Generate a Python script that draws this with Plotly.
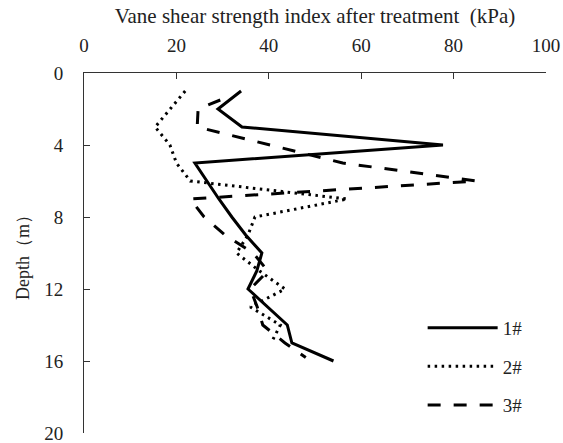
import plotly.graph_objects as go

# Depth (m) and vane shear strength (kPa) for each borehole
depth_1 = [1, 2, 3, 4, 5, 6, 7, 8, 9, 10, 11, 12, 13, 14, 15, 16]
vane_1 = [34, 29, 34.2, 77.7, 24, 26.6, 29.2, 32, 35, 38.5, 37.4, 35.5, 39.8, 44, 45, 54]

depth_2 = [1, 2, 3, 4, 5, 6, 7, 8, 9, 10, 11, 12, 13, 14, 15]
vane_2 = [21.9, 18.6, 15.4, 18.6, 20, 23, 57, 37, 35.5, 33, 38, 43.5, 36, 42.5, 40.5]

depth_3 = [1.5, 2, 3, 4, 5, 6, 7, 8, 9, 10, 11, 12, 13, 14, 15, 15.8]
vane_3 = [29.5, 24.7, 24.5, 40, 56, 85, 23, 26, 30.5, 36.6, 39.8, 36, 37.5, 38.7, 43.5, 48]

series_names = ["1#", "2#", "3#"]
x_ticks = [0, 20, 40, 60, 80, 100]
y_ticks = [0, 4, 8, 12, 16, 20]

FONT = "Liberation Serif, Times New Roman, serif"

fig = go.Figure()
styles = [dict(dash="solid"), dict(dash="2.5px,4.5px"), dict(dash="13px,13px")]
for i, (d, v) in enumerate([(depth_1, vane_1), (depth_2, vane_2), (depth_3, vane_3)]):
    fig.add_trace(go.Scatter(
        x=v, y=d, mode="lines", name=series_names[i],
        legendgroup=series_names[i],
        line=dict(color="black", width=3, **styles[i]),
    ))

fig.update_layout(
    width=563, height=443,
    margin=dict(l=84, r=17, t=73, b=10),
    paper_bgcolor="white", plot_bgcolor="white",
    font=dict(family=FONT, size=19, color="#222"),
    showlegend=True,
    legend=dict(
        x=0.733, y=0.345, xanchor="left", yanchor="top",
        bgcolor="rgba(0,0,0,0)", itemwidth=70,
        tracegroupgap=11, font=dict(family=FONT, size=19),
    ),
    xaxis=dict(
        side="top", range=[0, 100], tickvals=x_ticks, automargin=False,
        showgrid=False, zeroline=False,
        showline=True, linecolor="#333", linewidth=1,
        ticks="inside", ticklen=6, tickcolor="#333",
        ticklabelstandoff=12, ticklabeloverflow="allow",
        title=dict(text="Vane shear strength index after treatment  (kPa)",
                   standoff=6, font=dict(family=FONT, size=21)),
    ),
    yaxis=dict(
        range=[20, 0], tickvals=y_ticks, automargin=False,
        showgrid=False, zeroline=False,
        showline=True, linecolor="#333", linewidth=1,
        ticks="inside", ticklen=6, tickcolor="#333",
        ticklabelstandoff=16, ticklabeloverflow="allow",
        title=dict(text="Depth（m）", standoff=9, font=dict(family=FONT, size=18)),
    ),
)

fig.write_html(
    "out.html",
    config={"displayModeBar": False},
    post_script="document.body.style.margin='0';document.body.style.overflow='hidden';",
)
